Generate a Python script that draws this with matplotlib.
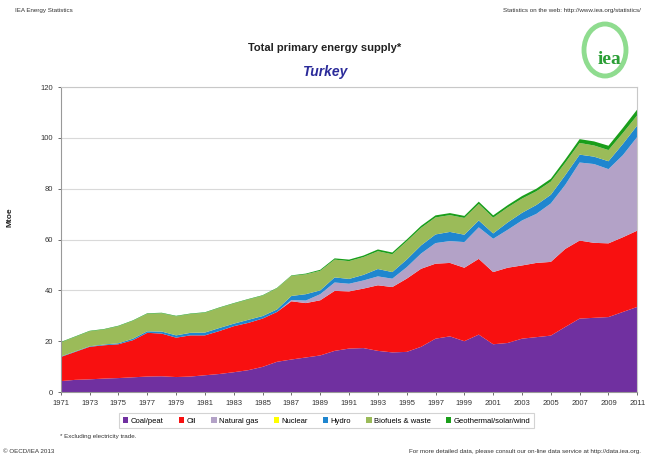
import matplotlib
matplotlib.use("Agg")
import matplotlib.pyplot as plt
from matplotlib.patches import Ellipse

plt.rcParams['font.family'] = ['Liberation Sans', 'DejaVu Sans']

years = list(range(1971, 2012))
coal = [4.3, 4.8, 5.0, 5.3, 5.5, 5.8, 6.1, 6.2, 5.9, 6.1,
        6.6, 7.1, 7.8, 8.6, 9.9, 11.9, 12.8, 13.6, 14.4, 16.2,
        17.1, 17.3, 16.2, 15.6, 15.8, 17.8, 21.0, 21.9, 20.0, 22.6,
        18.8, 19.3, 21.0, 21.6, 22.2, 25.6, 28.9, 29.2, 29.5, 31.5, 33.5]
oil = [9.5, 11.0, 12.8, 13.1, 13.3, 14.6, 17.2, 16.8, 15.5, 16.2,
       15.7, 16.9, 18.1, 18.6, 19.0, 19.6, 22.9, 21.4, 21.7, 23.6,
       22.5, 23.4, 25.8, 25.7, 28.8, 30.7, 29.5, 28.9, 28.9, 29.8,
       28.4, 29.6, 28.8, 29.2, 29.0, 30.7, 30.7, 29.5, 29.0, 29.4, 30.0]
gas = [0.0] * 16 + [0.5, 1.0, 2.4, 3.3,
                    3.0, 3.2, 3.5, 3.3, 4.5, 6.0, 8.1, 8.6, 10.1, 12.4,
                    13.1, 14.9, 17.7, 19.3, 23.0, 25.2, 30.7, 31.0, 29.2, 32.3, 36.9]
nuclear = [0.0] * 41
hydro = [0.2, 0.2, 0.2, 0.3, 0.4, 0.6, 0.6, 0.8, 0.9, 1.0,
         1.1, 1.2, 1.0, 1.2, 1.0, 1.0, 1.6, 2.5, 1.5, 2.0,
         1.9, 2.2, 2.9, 2.6, 3.0, 3.2, 3.4, 3.6, 2.9, 2.7,
         2.1, 2.9, 3.0, 3.5, 3.4, 3.8, 3.1, 2.9, 3.1, 4.4, 4.5]
biofuels = [5.5, 5.7, 5.9, 5.9, 6.7, 7.0, 6.9, 7.2, 7.5, 7.4,
            7.8, 7.9, 7.9, 8.0, 8.0, 8.3, 7.9, 7.8, 7.7, 7.0,
            7.0, 7.0, 7.0, 7.0, 7.2, 6.9, 6.7, 6.6, 6.6, 6.5,
            6.2, 5.9, 5.6, 5.4, 5.2, 4.9, 4.6, 4.4, 4.4, 4.3, 4.0]
geo = [0.2] * 10 + [0.2, 0.2, 0.2, 0.2, 0.2, 0.2, 0.2, 0.3, 0.4, 0.5,
                    0.6, 0.6, 0.7, 0.7, 0.7, 0.8, 0.8, 0.8, 0.8, 0.9,
                    0.9, 0.9, 1.0, 1.0, 1.1, 1.3, 1.5, 1.6, 1.7, 2.0, 2.3]

labels = ["Coal/peat", "Oil", "Natural gas", "Nuclear", "Hydro",
          "Biofuels & waste", "Geothermal/solar/wind"]
colors = ["#7030a0", "#f81010", "#b3a2c7", "#ffff00", "#1f86cf",
          "#9bbb59", "#1a9e1a"]

fig = plt.figure(figsize=(6.47, 4.58), dpi=100)
ax = fig.add_axes([0.094, 0.144, 0.891, 0.666])

ax.stackplot(years, coal, oil, gas, nuclear, hydro, biofuels, geo,
             colors=colors, labels=labels, linewidth=0)

ax.set_xlim(1971, 2011)
ax.set_ylim(0, 120)
ax.set_yticks(range(0, 121, 20))
ax.set_xticks(range(1971, 2012, 2))
ax.tick_params(labelsize=5.5, colors="#333333", length=2, width=0.5)
ax.yaxis.grid(True, color="#d9d9d9", linewidth=0.8)
ax.set_axisbelow(True)
for s in ax.spines.values():
    s.set_color("#c8c8c8")
    s.set_linewidth(0.8)
ax.spines["left"].set_color("#999999")
ax.spines["bottom"].set_color("#999999")
fig.text(0.016, 0.525, "Mtoe", rotation=90, ha="center", va="center",
         fontsize=6, fontweight="bold", color="#222222")

leg = fig.legend(loc="center", bbox_to_anchor=(0.505, 0.081), ncol=7,
                 fontsize=5.5, frameon=True, handlelength=0.7, handleheight=0.7,
                 handletextpad=0.3, columnspacing=2.0, borderpad=0.5,
                 fancybox=False, edgecolor="#c8c8c8")
leg.get_frame().set_linewidth(0.8)

fig.text(0.502, 0.895, "Total primary energy supply*", ha="center",
         va="center", fontsize=8, fontweight="bold", color="#222222")
fig.text(0.502, 0.843, "Turkey", ha="center", va="center", fontsize=10,
         fontweight="bold", style="italic", color="#2b2b9a")
fig.text(0.023, 0.978, "IEA Energy Statistics", ha="left", va="center",
         fontsize=4.5, color="#333333")
fig.text(0.99, 0.978, "Statistics on the web: http://www.iea.org/statistics/",
         ha="right", va="center", fontsize=4.5, color="#333333")
fig.text(0.093, 0.046, "* Excluding electricity trade.", ha="left",
         va="center", fontsize=4.5, color="#333333")
fig.text(0.004, 0.015, "© OECD/IEA 2013", ha="left", va="center",
         fontsize=4.5, color="#333333")
fig.text(0.99, 0.015,
         "For more detailed data, please consult our on-line data service at http://data.iea.org.",
         ha="right", va="center", fontsize=4.5, color="#333333")

# logo
fig.patches.append(Ellipse((605 / 647, 1 - 50 / 458), 42 / 647, 52 / 458,
                           transform=fig.transFigure, fill=False,
                           edgecolor="#8fdc8f", linewidth=3.5))
fig.text(609 / 647, 1 - 59 / 458, "iea", ha="center", va="center",
         fontsize=14, fontweight="bold", color="#2a9e35",
         family=["Liberation Serif", "DejaVu Serif"])

fig.savefig("out.png", dpi=100)
